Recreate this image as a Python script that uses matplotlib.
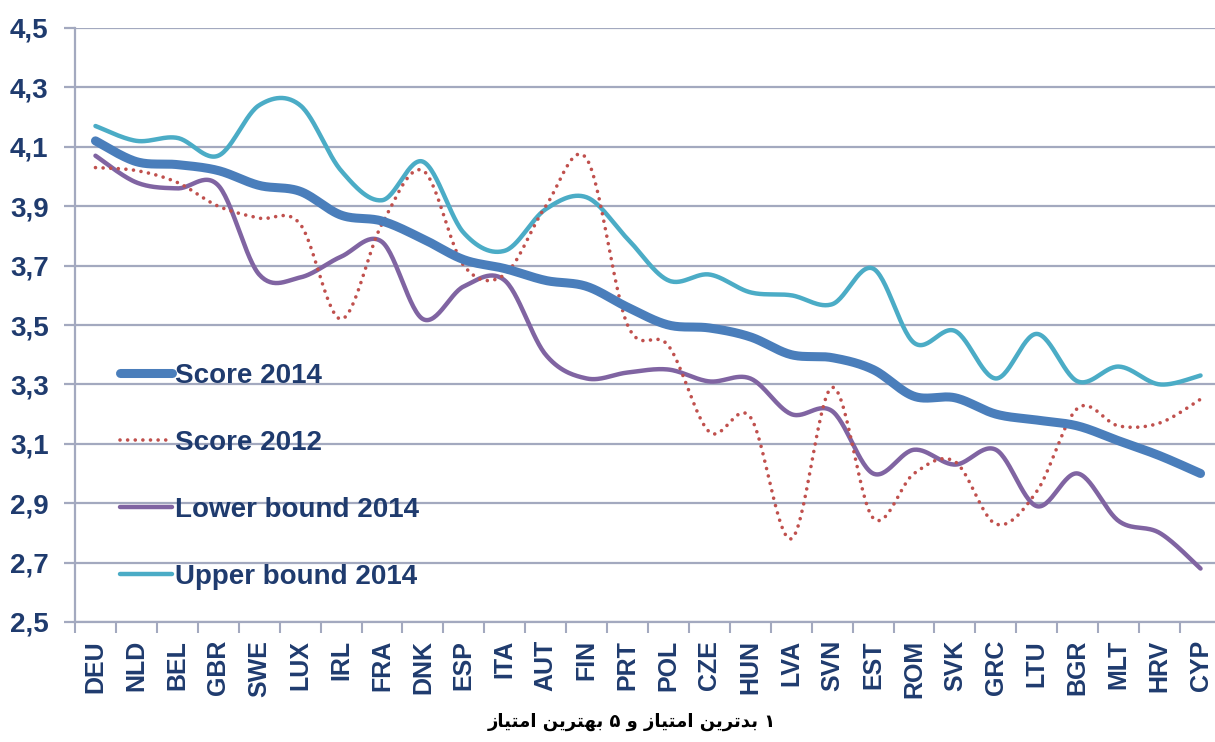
import numpy as np
import matplotlib
matplotlib.use("Agg")
import matplotlib.pyplot as plt
from matplotlib.lines import Line2D

countries = ["DEU", "NLD", "BEL", "GBR", "SWE", "LUX", "IRL", "FRA", "DNK", "ESP",
             "ITA", "AUT", "FIN", "PRT", "POL", "CZE", "HUN", "LVA", "SVN", "EST",
             "ROM", "SVK", "GRC", "LTU", "BGR", "MLT", "HRV", "CYP"]

score_2014 = [4.12, 4.05, 4.04, 4.02, 3.97, 3.95, 3.87, 3.85, 3.79, 3.72,
              3.69, 3.65, 3.63, 3.56, 3.50, 3.49, 3.46, 3.40, 3.39, 3.35,
              3.26, 3.255, 3.20, 3.18, 3.16, 3.11, 3.06, 3.00]
score_2012 = [4.03, 4.02, 3.98, 3.90, 3.86, 3.84, 3.52, 3.84, 4.02, 3.70,
              3.67, 3.90, 4.06, 3.50, 3.43, 3.14, 3.19, 2.78, 3.29, 2.85,
              3.00, 3.04, 2.83, 2.94, 3.22, 3.16, 3.17, 3.25]
lower_2014 = [4.07, 3.98, 3.96, 3.97, 3.67, 3.66, 3.73, 3.78, 3.52, 3.63,
              3.65, 3.40, 3.32, 3.34, 3.35, 3.31, 3.32, 3.20, 3.21, 3.00,
              3.08, 3.03, 3.08, 2.89, 3.00, 2.84, 2.80, 2.68]
upper_2014 = [4.17, 4.12, 4.13, 4.07, 4.24, 4.24, 4.02, 3.92, 4.05, 3.81,
              3.75, 3.89, 3.93, 3.79, 3.65, 3.67, 3.61, 3.60, 3.57, 3.69,
              3.44, 3.48, 3.32, 3.47, 3.31, 3.36, 3.30, 3.33]

y_ticks = [2.5, 2.7, 2.9, 3.1, 3.3, 3.5, 3.7, 3.9, 4.1, 4.3, 4.5]
y_tick_labels = ["2,5", "2,7", "2,9", "3,1", "3,3", "3,5", "3,7", "3,9", "4,1", "4,3", "4,5"]

series_labels = ["Score 2014", "Score 2012", "Lower bound 2014", "Upper bound 2014"]

# Persian caption in visual (left-to-right) order with presentation forms
w_emtiaz = "\uFEAF\uFE8E\uFEF4\uFE98\uFEE3\uFE8D"
w_behtarin = "\uFEE6\uFEF3\uFEAE\uFE98\uFEEC\uFE91"
w_badtarin = "\uFEE6\uFEF3\uFEAE\uFE97\uFEAA\uFE91"
w_va = "\uFEED"
caption = " ".join([w_emtiaz, w_behtarin, "\u06F5", w_va, w_emtiaz, w_badtarin, "\u06F1"])


def smooth(xs, ys, n=30):
    xs = np.asarray(xs, float)
    ys = np.asarray(ys, float)
    P = np.column_stack([xs, ys])
    out = []
    m = len(P)
    for i in range(m - 1):
        p0 = P[i - 1] if i > 0 else P[i]
        p1 = P[i]
        p2 = P[i + 1]
        p3 = P[i + 2] if i + 2 < m else P[i + 1]
        c1 = p1 + (p2 - p0) / 6.0
        c2 = p2 - (p3 - p1) / 6.0
        t = np.linspace(0, 1, n, endpoint=(i == m - 2))[:, None]
        seg = ((1 - t) ** 3) * p1 + 3 * ((1 - t) ** 2) * t * c1 + 3 * (1 - t) * t ** 2 * c2 + t ** 3 * p2
        out.append(seg)
    out = np.vstack(out)
    return out[:, 0], out[:, 1]


W, H = 1215, 742
fig = plt.figure(figsize=(W / 100, H / 100), dpi=100)
ax = fig.add_axes([75 / W, (H - 622) / H, (1221 - 75) / W, 594 / H])

x = np.arange(len(countries))
grid_c = "#A3A9BF"
text_c = "#1F3B6E"

ax.set_ylim(2.5, 4.5)
ax.set_xlim(-0.5, len(countries) - 0.5)
ax.set_yticks(y_ticks)
ax.set_yticklabels(y_tick_labels)
for yv in y_ticks:
    ax.axhline(yv, color=grid_c, lw=1.6, zorder=1)

ax.set_xticks(x)
ax.set_xticklabels(countries, rotation=90)
ax.set_xticks(np.arange(len(countries) + 1) - 0.5, minor=True)
ax.tick_params(axis="x", which="major", length=0, pad=13)
ax.tick_params(axis="x", which="minor", length=8, width=1.5, color=grid_c, direction="out")
ax.tick_params(axis="y", length=8, width=1.6, color=grid_c, direction="out", pad=11)

for lab in ax.get_xticklabels():
    lab.set_fontsize(18)
    lab.set_fontweight("bold")
    lab.set_color(text_c)
    lab.set_fontfamily("Liberation Sans")
for lab in ax.get_yticklabels():
    lab.set_fontsize(20)
    lab.set_fontweight("bold")
    lab.set_color(text_c)
    lab.set_fontfamily("Liberation Sans")

for s in ["top", "right"]:
    ax.spines[s].set_visible(False)
ax.spines["left"].set_color(grid_c)
ax.spines["left"].set_linewidth(1.6)
ax.spines["bottom"].set_color(grid_c)
ax.spines["bottom"].set_linewidth(1.6)

styles = [
    dict(color="#4A7EBB", lw=6.5, ls="-"),
    dict(color="#C0504D", lw=2.6, ls=(0, (0.01, 2.1))),
    dict(color="#8064A2", lw=3.2, ls="-"),
    dict(color="#4BACC6", lw=3.2, ls="-"),
]
order = [upper_2014, lower_2014, score_2012, score_2014]
order_styles = [styles[3], styles[2], styles[1], styles[0]]
for data, st in zip(order, order_styles):
    sx, sy = smooth(x, data)
    ax.plot(sx, sy, color=st["color"], lw=st["lw"], ls=st["ls"],
            solid_capstyle="round", dash_capstyle="round", zorder=3)

handles = [Line2D([], [], color=st["color"], lw=st["lw"], ls=st["ls"],
                  solid_capstyle="round", dash_capstyle="round") for st in styles]
leg = ax.legend(handles, series_labels, loc="center left",
                bbox_to_anchor=(45 / 1146, (622 - 476.5) / 594),
                frameon=False, borderpad=0, borderaxespad=0,
                handlelength=1.87, handletextpad=0.12, labelspacing=1.48,
                prop={"family": "Liberation Sans", "weight": "bold", "size": 20})
for t in leg.get_texts():
    t.set_color(text_c)

fig.text(632 / W, 1 - 722 / H, caption, ha="center", va="center",
         fontsize=13, fontweight="bold", color="black", family="DejaVu Sans")

fig.savefig("out.png", dpi=100)
